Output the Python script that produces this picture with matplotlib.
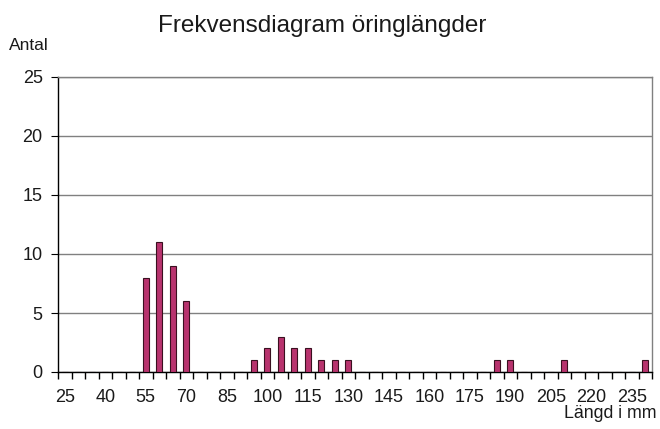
import numpy as np
import matplotlib
matplotlib.use('Agg')
import matplotlib.pyplot as plt

plt.rcParams['font.family'] = ['Liberation Sans', 'DejaVu Sans']

# Length classes (mm) and counts
lengths = list(range(25, 245, 5))
counts_by_length = {55: 8, 60: 11, 65: 9, 70: 6,
                    95: 1, 100: 2, 105: 3, 110: 2, 115: 2,
                    120: 1, 125: 1, 130: 1,
                    185: 1, 190: 1, 210: 1, 240: 1}
counts = [counts_by_length.get(l, 0) for l in lengths]
y_ticks = [0, 5, 10, 15, 20, 25]

text_col = '#1a1a1a'

fig = plt.figure(figsize=(6.6, 4.29), dpi=100)
ax = fig.add_axes([58 / 660, 1 - 372 / 429, 594 / 660, 295 / 429])

x = np.arange(len(lengths))
ax.bar(x, counts, width=0.45, color='#B8336E', edgecolor='#3a1020',
       linewidth=0.8, zorder=3)

ax.set_xlim(-0.5, len(lengths) - 0.5)
ax.set_ylim(0, 25)
ax.set_yticks(y_ticks)
ax.yaxis.grid(True, color='#808080', linewidth=1.0, zorder=0)

# category boundary ticks, labels on every third class
ax.set_xticks(np.arange(len(lengths) + 1) - 0.5, minor=False)
ax.set_xticklabels([])
ax.set_xticks(x[::3], minor=True)
ax.set_xticklabels([str(l) for l in lengths[::3]], minor=True, fontsize=13,
                   color=text_col)
ax.tick_params(axis='x', which='major', length=5, direction='out',
               color='black', width=1)
ax.tick_params(axis='x', which='minor', length=0, pad=12)
ax.tick_params(axis='y', length=5, direction='out', labelsize=13, pad=6,
               labelcolor=text_col)

for side in ['left', 'bottom']:
    ax.spines[side].set_color('black')
    ax.spines[side].set_linewidth(1.0)
for side in ['top', 'right']:
    ax.spines[side].set_color('#808080')
    ax.spines[side].set_linewidth(1.0)

fig.text(322 / 660, 1 - 26 / 429, 'Frekvensdiagram öringlängder',
         ha='center', va='center', fontsize=17.5, color=text_col)
fig.text(9 / 660, 1 - 46 / 429, 'Antal', ha='left', va='center',
         fontsize=12.5, color=text_col)
fig.text(656 / 660, 1 - 414 / 429, 'Längd i mm', ha='right', va='center',
         fontsize=12.8, color=text_col)

fig.savefig('out.png', dpi=100)
